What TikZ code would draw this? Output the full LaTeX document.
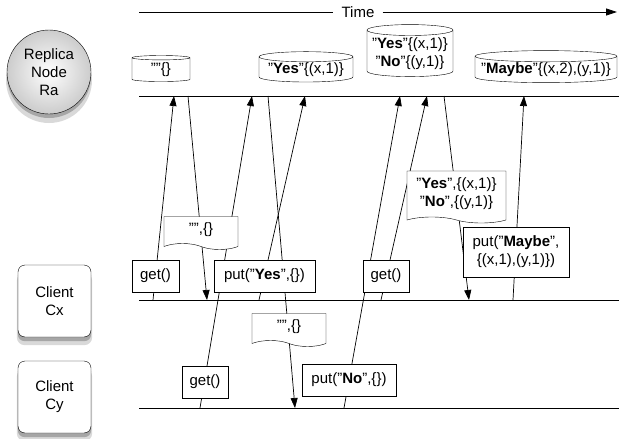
\documentclass[tikz,border=0pt]{standalone}
\usepackage{fontspec}
\setmainfont{Liberation Sans}
\usetikzlibrary{shapes.geometric, shapes.symbols, arrows.meta, backgrounds, calc}

\begin{document}
\begin{tikzpicture}[
    x=1pt, y=-1pt,
    font=\fontsize{15}{18}\selectfont,
    replica/.style={circle, draw, minimum size=84pt, inner sep=0pt, align=center, inner color=white, outer color=gray!40},
    client/.style={rectangle, rounded corners=7pt, draw, fill=white, minimum width=73pt, minimum height=72pt, align=center},
    store/.style={cylinder, shape border rotate=90, draw, fill=white, inner sep=1pt, align=center},
    msgbox/.style={rectangle, draw, fill=white, inner sep=2pt, minimum height=32pt, align=center},
    reply/.style={tape, tape bend top=none, tape bend bottom=out and in, tape bend height=6pt, draw, fill=white, inner sep=2pt, align=center},
    shade1/.style={fill=black!15},
    shade2/.style={fill=black!35},
    track/.style={line width=0.8pt},
    msg/.style={-{Triangle[length=10pt, width=7pt]}, line width=0.7pt}
]
\useasboundingbox (0,0) rectangle (619,439);

% Actors
\node[replica] (ra) at (49,72) {Replica\\Node\\Ra};
\node[client] (cx) at (54.5,301) {Client\\Cx};
\node[client] (cy) at (54.5,397) {Client\\Cy};

% Shadows behind the actors
\begin{scope}[on background layer]
\fill[shade1] ($(ra.center)+(0,8)$) circle (43);
\fill[shade2] ($(ra.center)+(0,4)$) circle (42);
\foreach \c in {cx,cy} {
  \fill[shade1, rounded corners=8pt] ($(\c.north west)+(-1,8)$) rectangle ($(\c.south east)+(1,8)$);
  \fill[shade2, rounded corners=7pt] ($(\c.north west)+(0,4)$) rectangle ($(\c.south east)+(0,4)$);
}
\end{scope}

% Time axis
\coordinate (timeL) at (139,12);
\coordinate (timeR) at (617,12);
\node[inner sep=8pt] (time) at (358,12) {Time};
\draw[track] (timeL) -- (time.west);
\draw[track, -{Triangle[length=11pt, width=7pt]}] (time.east) -- (timeR);

% Timelines
\coordinate (raL) at (139,96);  \coordinate (raR) at (619,96);
\coordinate (cxL) at (139,300); \coordinate (cxR) at (619,300);
\coordinate (cyL) at (139,408); \coordinate (cyR) at (619,408);
\draw[track] (raL) -- (raR);
\draw[track] (cxL) -- (cxR);
\draw[track] (cyL) -- (cyR);

% Stored values on Ra
\node[store, minimum width=58pt, minimum height=26pt, aspect=0.2] (s1) at (161,70) {""\{\}};
\node[store, minimum width=94pt, minimum height=26pt, aspect=0.13] (s2) at (306,70) {"\textbf{Yes}"\{(x,1)\}};
\node[store, minimum width=86pt, minimum height=52pt, aspect=0.14] (s3) at (410,54) {"\textbf{Yes}"\{(x,1)\}\\"\textbf{No}"\{(y,1)\}};
\node[store, minimum width=142pt, minimum height=26pt, aspect=0.085] (s4) at (546,70) {"\textbf{Maybe}"\{(x,2),(y,1)\}};

% Message end points
\coordinate (m1s) at (153,300); \coordinate (m1e) at (174,96);
\coordinate (m2s) at (188,96);  \coordinate (m2e) at (207,300);
\coordinate (m3s) at (200,408); \coordinate (m3e) at (252,96);
\coordinate (m4s) at (268,96);  \coordinate (m4e) at (295,408);
\coordinate (m5s) at (259,300); \coordinate (m5e) at (305,96);
\coordinate (m6s) at (344,408); \coordinate (m6e) at (400,96);
\coordinate (m7s) at (381,300); \coordinate (m7e) at (427,96);
\coordinate (m8s) at (444,96);  \coordinate (m8e) at (469,300);
\coordinate (m9s) at (513,300); \coordinate (m9e) at (524,96);

% Messages
\draw[msg] (m1s) -- (m1e);
\draw[msg] (m2s) -- (m2e);
\draw[msg] (m3s) -- (m3e);
\draw[msg] (m4s) -- (m4e);
\draw[msg] (m5s) -- (m5e);
\draw[msg] (m6s) -- (m6e);
\draw[msg] (m7s) -- (m7e);
\draw[msg] (m8s) -- (m8e);
\draw[msg] (m9s) -- (m9e);

% Requests
\node[msgbox, minimum width=47pt] (getx1) at (155.5,276) {get()};
\node[msgbox, minimum width=101pt] (putyes) at (264.5,276) {put("\textbf{Yes}",\{\})};
\node[msgbox, minimum width=46pt] (getx2) at (386,276) {get()};
\node[msgbox, minimum width=106pt, minimum height=50pt] (putmaybe) at (516,252) {put("\textbf{Maybe}",\\\{(x,1),(y,1)\})};
\node[msgbox, minimum width=46pt] (gety) at (205,382) {get()};
\node[msgbox, minimum width=94pt] (putno) at (349,380) {put("\textbf{No}",\{\})};

% Replies
\node[reply, minimum width=74pt, minimum height=33pt] (r1) at (201,230) {"",\{\}};
\node[reply, minimum width=74pt, minimum height=33pt] (r2) at (289,327) {"",\{\}};
\node[reply, minimum width=99pt, minimum height=52pt] (r3) at (456.5,194) {"\textbf{Yes}",\{(x,1)\}\\"\textbf{No}",\{(y,1)\}};

\end{tikzpicture}
\end{document}
